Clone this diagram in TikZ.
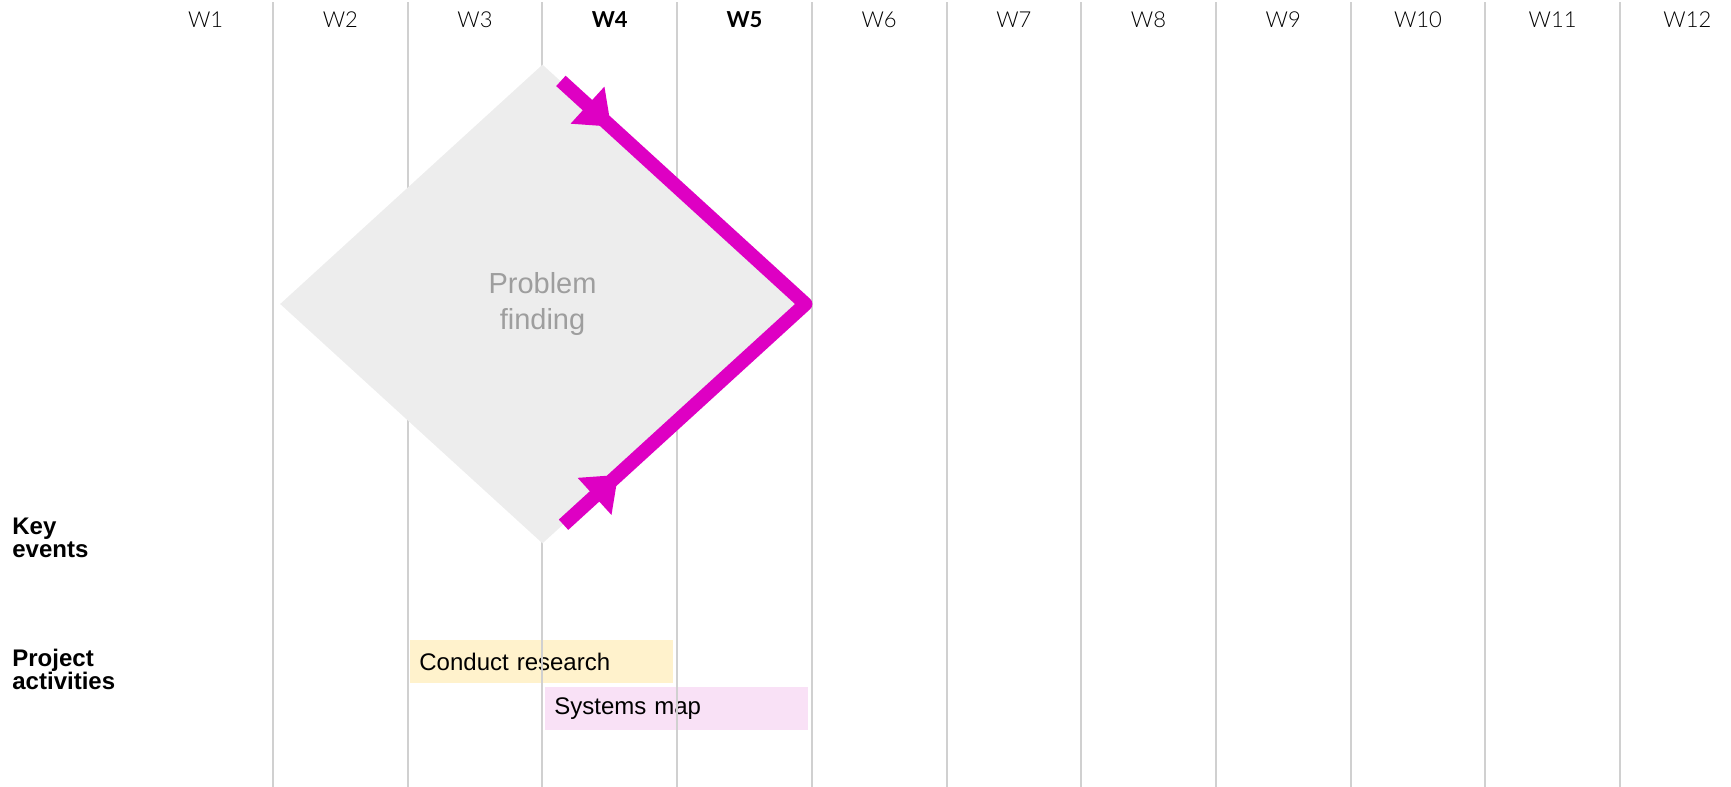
\documentclass[tikz,border=0pt]{standalone}
\usepackage{fontspec}
\setmainfont{Liberation Sans}
\newfontfamily\weekfont{Lato Light}[BoldFont={Lato Bold}]
\usepackage{tikz}
\usetikzlibrary{arrows.meta}
\usetikzlibrary{calc}
\usetikzlibrary{decorations.markings}
\usetikzlibrary{shapes.geometric}
\definecolor{gridgrey}{HTML}{D0D0D0}
\definecolor{diamondgrey}{HTML}{EDEDED}
\definecolor{labelgrey}{HTML}{9E9E9E}
\definecolor{flowmagenta}{HTML}{DE00C3}
\definecolor{researchfill}{HTML}{FFF2CC}
\definecolor{mapfill}{HTML}{F9E1F6}

\begin{document}
\begin{tikzpicture}[x=0.5pt, y=-0.5pt,
	week/.style={font=\weekfont\fontsize{11}{13}\selectfont, anchor=center},
	rowlabel/.style={font=\bfseries\fontsize{12}{11.2}\selectfont, align=left, inner sep=0pt, anchor=base west},
	actbox/.style={anchor=north west, minimum height=21.5pt, text width=122.5pt, inner xsep=4.5pt, inner ysep=0pt, align=left, font=\fontsize{12}{14}\selectfont},
	flow/.style={color=flowmagenta, line width=7pt, line join=round,
		decoration={markings,
			mark=at position 34pt with {\arrow{Triangle[length=16pt,width=24pt]}},
			mark=at position -37pt with {\arrowreversed{Triangle[length=16pt,width=24pt]}}},
		postaction={decorate}}]
	\useasboundingbox (0,0) rectangle (1731,787);

	\node[actbox, fill=researchfill]
		(research) at (410,640) {Conduct research};
	\node[actbox, fill=mapfill]
		(sysmap) at (545,687) {Systems map};

	\foreach \k in {1,...,11}{
		\draw[color=gridgrey, line width=1pt]
			({138.3+134.7*\k},2) -- ({138.3+134.7*\k},787);
	}

	\foreach \k in {1,...,12}{
		\node[week]
			(w\k) at ({70.95+134.7*\k},20) {\ifnum\k=4 \bfseries\fi\ifnum\k=5 \bfseries\fi W\k};
	}

	\node[rowlabel]
		(keyev) at (12,557) {Key\\events};
	\node[rowlabel]
		(projact) at (12,689) {Project\\activities};

	\node[diamond, fill=diamondgrey, inner sep=0pt, minimum width=262.5pt, minimum height=239.5pt,
		align=center, text=labelgrey, font=\fontsize{14.5}{18}\selectfont]
		(pf) at (542.5,304) {Problem\\finding};

	\draw[flow]
		($(pf.north)!0.07!(pf.east)$) -- (pf.east) -- ($(pf.south)!0.08!(pf.east)$);
\end{tikzpicture}
\end{document}
